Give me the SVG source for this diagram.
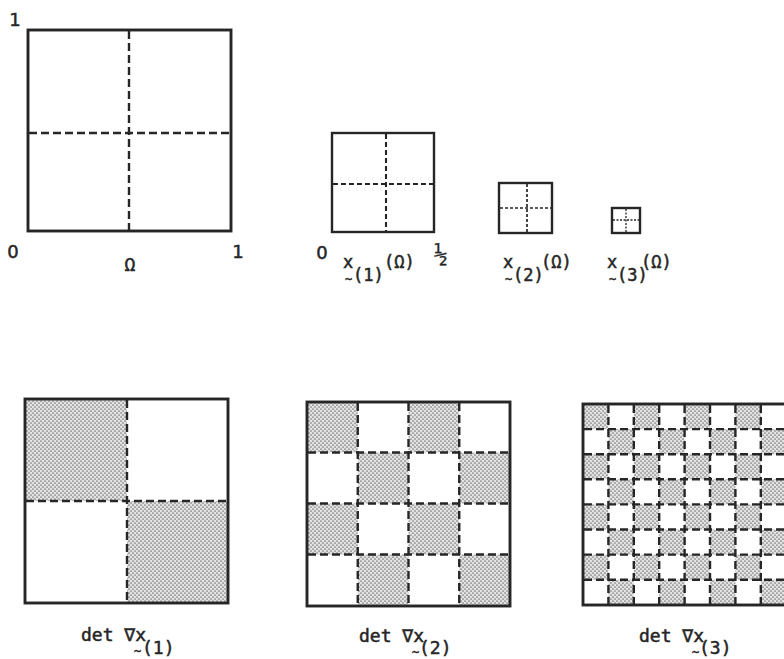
<svg xmlns="http://www.w3.org/2000/svg" width="784" height="659" viewBox="0 0 784 659">
<defs>
<pattern id="stip" patternUnits="userSpaceOnUse" width="4" height="4">
<rect width="4" height="4" fill="#e2e2e2"/>
<circle cx="1" cy="1" r="0.85" fill="#7c7c7c"/>
<circle cx="3" cy="3" r="0.85" fill="#7c7c7c"/>
</pattern>
</defs>
<style>
.frame{fill:none;stroke:#262626;stroke-width:2.9}
.frame-s{fill:none;stroke:#262626;stroke-width:2.4}
.dash{fill:none;stroke:#262626;stroke-width:2.4;stroke-dasharray:8 4}
.dash-m{fill:none;stroke:#262626;stroke-width:2.1;stroke-dasharray:5 3}
.dash-s{fill:none;stroke:#262626;stroke-width:1.7;stroke-dasharray:3 2}
.dash-xs{fill:none;stroke:#262626;stroke-width:1.3;stroke-dasharray:2 1.5}
.sh{fill:url(#stip)}
text{font-family:"DejaVu Sans Mono","DejaVu Sans",monospace;fill:#262626;stroke:#262626;stroke-width:0.5}
.t{font-size:18px}
.sub{font-size:17px}
.tl{font-size:12px}
.num{font-family:"DejaVu Sans","Liberation Sans",sans-serif;font-size:18px}
</style>
<rect width="784" height="659" fill="#ffffff"/>

<g id="omega">
<rect class="frame" x="28" y="30" width="203" height="201"/>
<line class="dash" x1="129" y1="31" x2="129" y2="230"/>
<line class="dash" x1="29" y1="133" x2="230" y2="133"/>
<text class="num" x="15" y="26" text-anchor="middle">1</text>
<text class="num" x="13" y="258" text-anchor="middle">0</text>
<text class="num" x="238" y="258" text-anchor="middle">1</text>
<text class="t" x="130" y="271" text-anchor="middle">Ω</text>
</g>

<g id="x1">
<rect class="frame-s" x="332" y="133" width="102" height="99"/>
<line class="dash-m" x1="386" y1="134" x2="386" y2="231"/>
<line class="dash-m" x1="333" y1="184" x2="433" y2="184"/>
<text class="num" x="322" y="259" text-anchor="middle">0</text>
<text x="441" y="262" text-anchor="middle" font-size="23" style="stroke-width:0.3">½</text>
<text class="sub" x="343" y="268">x</text>
<text class="tl" x="345" y="283">~</text>
<text class="sub" x="353" y="281">(1)</text>
<text class="sub" x="384" y="268">(Ω)</text>
</g>

<g id="x2">
<rect class="frame-s" x="499" y="183" width="53" height="50"/>
<line class="dash-s" x1="527" y1="184" x2="527" y2="232"/>
<line class="dash-s" x1="500" y1="208" x2="551" y2="208"/>
<text class="sub" x="503" y="268">x</text>
<text class="tl" x="505" y="283">~</text>
<text class="sub" x="513" y="281">(2)</text>
<text class="sub" x="541" y="268">(Ω)</text>
</g>

<g id="x3">
<rect class="frame-s" x="612" y="208" width="28" height="25"/>
<line class="dash-xs" x1="626" y1="209" x2="626" y2="232"/>
<line class="dash-xs" x1="613" y1="220" x2="639" y2="220"/>
<text class="sub" x="607" y="268">x</text>
<text class="tl" x="609" y="283">~</text>
<text class="sub" x="617" y="281">(3)</text>
<text class="sub" x="641" y="268">(Ω)</text>
</g>

<g id="det1">
<rect class="sh" x="25" y="399" width="102" height="102"/>
<rect class="sh" x="127" y="501" width="101" height="102"/>
<rect class="frame" x="25" y="399" width="203" height="204"/>
<line class="dash" x1="127" y1="400" x2="127" y2="602"/>
<line class="dash" x1="26" y1="501" x2="227" y2="501"/>
<text class="t" x="81" y="641">det ∇x</text>
<text class="tl" x="134" y="655">~</text>
<text class="t" x="142" y="654">(1)</text>
</g>

<g id="det2">
<rect class="sh" x="307" y="402" width="50.75" height="50.5"/>
<rect class="sh" x="408.5" y="402" width="50.75" height="50.5"/>
<rect class="sh" x="357.75" y="452.5" width="50.75" height="51"/>
<rect class="sh" x="459.25" y="452.5" width="50.75" height="51"/>
<rect class="sh" x="307" y="503.5" width="50.75" height="51"/>
<rect class="sh" x="408.5" y="503.5" width="50.75" height="51"/>
<rect class="sh" x="357.75" y="554.5" width="50.75" height="51.5"/>
<rect class="sh" x="459.25" y="554.5" width="50.75" height="51.5"/>
<rect class="frame" x="307" y="402" width="203" height="204"/>
<path class="dash" d="M357.75 403V605M408.5 403V605M459.25 403V605M308 452.5H509M308 503.5H509M308 554.5H509"/>
<text class="t" x="359" y="642">det ∇x</text>
<text class="tl" x="412" y="656">~</text>
<text class="t" x="419" y="654">(2)</text>
</g>

<g id="det3">
<g class="sh">
<rect x="583" y="404" width="25.4" height="25.1"/><rect x="633.8" y="404" width="25.4" height="25.1"/><rect x="684.6" y="404" width="25.4" height="25.1"/><rect x="735.4" y="404" width="25.4" height="25.1"/>
<rect x="608.4" y="429.1" width="25.4" height="25.1"/><rect x="659.2" y="429.1" width="25.4" height="25.1"/><rect x="710" y="429.1" width="25.4" height="25.1"/><rect x="760.8" y="429.1" width="25.4" height="25.1"/>
<rect x="583" y="454.2" width="25.4" height="25.1"/><rect x="633.8" y="454.2" width="25.4" height="25.1"/><rect x="684.6" y="454.2" width="25.4" height="25.1"/><rect x="735.4" y="454.2" width="25.4" height="25.1"/>
<rect x="608.4" y="479.3" width="25.4" height="25.1"/><rect x="659.2" y="479.3" width="25.4" height="25.1"/><rect x="710" y="479.3" width="25.4" height="25.1"/><rect x="760.8" y="479.3" width="25.4" height="25.1"/>
<rect x="583" y="504.4" width="25.4" height="25.1"/><rect x="633.8" y="504.4" width="25.4" height="25.1"/><rect x="684.6" y="504.4" width="25.4" height="25.1"/><rect x="735.4" y="504.4" width="25.4" height="25.1"/>
<rect x="608.4" y="529.5" width="25.4" height="25.1"/><rect x="659.2" y="529.5" width="25.4" height="25.1"/><rect x="710" y="529.5" width="25.4" height="25.1"/><rect x="760.8" y="529.5" width="25.4" height="25.1"/>
<rect x="583" y="554.6" width="25.4" height="25.1"/><rect x="633.8" y="554.6" width="25.4" height="25.1"/><rect x="684.6" y="554.6" width="25.4" height="25.1"/><rect x="735.4" y="554.6" width="25.4" height="25.1"/>
<rect x="608.4" y="579.7" width="25.4" height="25.3"/><rect x="659.2" y="579.7" width="25.4" height="25.3"/><rect x="710" y="579.7" width="25.4" height="25.3"/><rect x="760.8" y="579.7" width="25.4" height="25.3"/>
</g>
<rect class="frame" x="583" y="404" width="203" height="201"/>
<path class="dash" stroke-dasharray="6 3.5" d="M608.4 405V604M633.8 405V604M659.2 405V604M684.6 405V604M710 405V604M735.4 405V604M760.8 405V604M584 429.1H785M584 454.2H785M584 479.3H785M584 504.4H785M584 529.5H785M584 554.6H785M584 579.7H785"/>
<text class="t" x="639" y="642">det ∇x</text>
<text class="tl" x="692" y="656">~</text>
<text class="t" x="699" y="654">(3)</text>
</g>
</svg>
